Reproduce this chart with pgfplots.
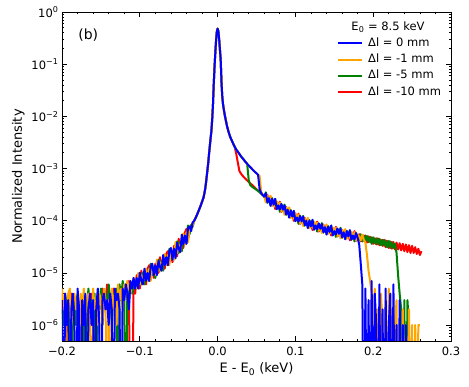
\documentclass[border=0pt]{standalone}
\usepackage{fontspec}
\setmainfont{DejaVu Sans}
\setsansfont{DejaVu Sans}
\usepackage{pgfplots}
\pgfplotsset{compat=1.18}
\usepackage{pgfplotstable}

\definecolor{mplblue}{RGB}{0,0,255}
\definecolor{mplorange}{RGB}{255,165,0}
\definecolor{mplgreen}{RGB}{0,128,0}
\definecolor{mplred}{RGB}{255,0,0}

% columns: b = 0 mm, o = -1 mm, g = -5 mm, r = -10 mm ; 1e-9 = zero counts
\pgfplotstableread{
x b o g r
-0.200 3e-6 5e-6 2e-6 4e-6
-0.198 1e-9 2e-6 1e-6 1e-6
-0.196 4e-6 3e-6 4e-6 2e-6
-0.194 1e-6 1e-9 2e-6 3e-6
-0.192 3e-6 4e-6 1e-6 1e-9
-0.190 1e-9 5e-6 3e-6 2e-6
-0.188 2e-6 1e-6 1e-9 4e-6
-0.186 4e-6 3e-6 2e-6 1e-6
-0.184 1e-6 4e-6 3e-6 2e-6
-0.182 1e-9 2e-6 1e-6 3e-6
-0.180 5e-6 3e-6 4e-6 2e-6
-0.178 2e-6 1e-9 2e-6 1e-6
-0.176 1e-9 4e-6 1e-6 3e-6
-0.174 3e-6 2e-6 3e-6 1e-9
-0.172 1e-6 5e-6 2e-6 2e-6
-0.170 4e-6 1e-6 1e-9 3e-6
-0.168 1e-9 3e-6 2e-6 1e-6
-0.166 2e-6 4e-6 5e-6 3e-6
-0.164 4e-6 2e-6 1e-6 2e-6
-0.162 1e-6 1e-9 3e-6 4e-6
-0.160 3e-6 5e-6 2e-6 1e-6
-0.158 1e-9 2e-6 4e-6 3e-6
-0.156 2e-6 3e-6 1e-9 2e-6
-0.154 5e-6 1e-6 3e-6 4e-6
-0.152 1e-6 4e-6 2e-6 2e-6
-0.150 1e-9 3e-6 5e-6 3e-6
-0.148 3e-6 1e-6 1e-6 5e-6
-0.146 4e-6 5e-6 3e-6 2e-6
-0.144 2e-6 3e-6 4e-6 3e-6
-0.142 3e-6 1e-9 2e-6 6e-6
-0.140 1e-6 3e-6 6e-6 2e-6
-0.138 4e-6 1e-9 3e-6 4e-6
-0.136 2e-6 5e-6 1e-6 3e-6
-0.134 1e-9 2e-6 4e-6 5e-6
-0.132 5e-6 4e-6 3e-6 2e-6
-0.130 3e-6 1e-6 5e-6 4e-6
-0.128 4e-6 6e-6 1e-9 3e-6
-0.126 2e-6 3e-6 6e-6 5e-6
-0.124 1e-9 5e-6 3e-6 4e-6
-0.122 5e-6 2e-6 7e-6 3e-6
-0.120 3e-6 6e-6 4e-6 5e-6
-0.118 6e-6 4e-6 1e-9 6e-6
-0.116 4e-6 7e-6 5e-6 3e-6
-0.114 2e-6 5e-6 3e-6 7e-6
-0.112 7e-6 4e-6 6e-6 1e-9
-0.110 5e-6 6e-6 4e-6 1e-9
-0.108 8e-6 8e-6 5e-6 7e-6
-0.106 5e-6 6e-6 7e-6 4e-6
-0.104 8e-6 5e-6 5e-6 9e-6
-0.102 5e-6 10e-6 9e-6 6e-6
-0.100 10e-6 6e-6 10e-6 5e-6
-0.098 7e-6 9e-6 6e-6 11e-6
-0.096 6e-6 6e-6 10e-6 7e-6
-0.094 12e-6 11e-6 6e-6 10e-6
-0.092 7e-6 12e-6 12e-6 6e-6
-0.090 10e-6 7e-6 9e-6 12e-6
-0.088 7e-6 12e-6 7e-6 14e-6
-0.086 13e-6 7e-6 15e-6 8e-6
-0.084 15e-6 14e-6 9e-6 13e-6
-0.082 9e-6 10e-6 13e-6 8e-6
-0.080 14e-6 9e-6 8e-6 15e-6
-0.078 9e-6 18e-6 16e-6 11e-6
-0.076 17e-6 11e-6 18e-6 10e-6
-0.074 13e-6 16e-6 11e-6 20e-6
-0.072 11e-6 11e-6 17e-6 12e-6
-0.070 22e-6 20e-6 11e-6 18e-6
-0.068 14e-6 23e-6 22e-6 12e-6
-0.066 20e-6 14e-6 16e-6 23e-6
-0.064 14e-6 22e-6 14e-6 26e-6
-0.062 26e-6 14e-6 29e-6 16e-6
-0.060 30e-6 28e-6 18e-6 25e-6
-0.058 18e-6 21e-6 26e-6 16e-6
-0.056 29e-6 18e-6 18e-6 33e-6
-0.054 19e-6 39e-6 35e-6 25e-6
-0.052 38e-6 24e-6 40e-6 21e-6
-0.050 29e-6 35e-6 24e-6 45e-6
-0.048 25e-6 25e-6 40e-6 29e-6
-0.046 54e-6 48e-6 26e-6 42e-6
-0.044 35e-6 57e-6 54e-6 30e-6
-0.042 52e-6 35e-6 42e-6 59e-6
-0.040 36e-6 60e-6 37e-6 70e-6
-0.038 72e-6 39e-6 81e-6 44e-6
-0.036 78e-6 72e-6 55e-6 65e-6
-0.034 63e-6 67e-6 83e-6 80e-6
-0.032 93e-6 82e-6 77e-6 90e-6
-0.030 1.0e-4 1.0e-4 1.0e-4 1.0e-4
-0.028 1.15e-4 1.15e-4 1.15e-4 1.15e-4
-0.026 1.35e-4 1.35e-4 1.35e-4 1.35e-4
-0.024 1.6e-4 1.6e-4 1.6e-4 1.6e-4
-0.022 1.9e-4 1.9e-4 1.9e-4 1.9e-4
-0.020 2.3e-4 2.3e-4 2.3e-4 2.3e-4
-0.018 2.8e-4 2.8e-4 2.8e-4 2.8e-4
-0.016 4.0e-4 4.0e-4 4.0e-4 4.0e-4
-0.015 5.2e-4 5.2e-4 5.2e-4 5.2e-4
-0.014 7.0e-4 7.0e-4 7.0e-4 7.0e-4
-0.013 9.5e-4 9.5e-4 9.5e-4 9.5e-4
-0.012 1.3e-3 1.3e-3 1.3e-3 1.3e-3
-0.011 1.9e-3 1.9e-3 1.9e-3 1.9e-3
-0.010 2.7e-3 2.7e-3 2.7e-3 2.7e-3
-0.009 3.8e-3 3.8e-3 3.8e-3 3.8e-3
-0.008 5.2e-3 5.2e-3 5.2e-3 5.2e-3
-0.007 8.5e-3 8.5e-3 8.5e-3 8.5e-3
-0.006 0.016 0.016 0.016 0.016
-0.005 0.040 0.040 0.040 0.040
-0.004 0.085 0.085 0.085 0.085
-0.003 0.16 0.16 0.16 0.16
-0.002 0.28 0.28 0.28 0.28
-0.001 0.42 0.42 0.42 0.42
0.000 0.48 0.48 0.48 0.48
0.001 0.43 0.43 0.43 0.43
0.002 0.30 0.30 0.30 0.30
0.003 0.19 0.19 0.19 0.19
0.004 0.12 0.12 0.12 0.12
0.005 0.045 0.045 0.045 0.045
0.006 0.024 0.024 0.024 0.024
0.007 0.017 0.017 0.017 0.017
0.008 0.0135 0.0135 0.0135 0.0135
0.009 0.011 0.011 0.011 0.011
0.010 0.0092 0.0092 0.0092 0.0092
0.012 0.0066 0.0066 0.0066 0.0066
0.014 0.0051 0.0051 0.0051 0.0051
0.016 0.0041 0.0041 0.0041 0.0041
0.018 0.0035 0.0035 0.0035 0.0035
0.020 0.0030 0.0030 0.0030 0.0030
0.022 0.0026 0.0026 0.0026 0.0026
0.024 2.3e-3 2.3e-3 2.3e-3 1.9e-3
0.026 2.1e-3 2.1e-3 2.1e-3 1.3e-3
0.028 1.9e-3 1.9e-3 1.9e-3 9.0e-4
0.030 1.72e-3 1.72e-3 1.72e-3 8.0e-4
0.032 1.58e-3 1.58e-3 1.58e-3 7.3e-4
0.034 1.45e-3 1.45e-3 1.45e-3 6.8e-4
0.036 1.33e-3 1.33e-3 1.33e-3 6.3e-4
0.038 1.23e-3 1.23e-3 1.23e-3 5.9e-4
0.040 1.14e-3 1.14e-3 6.0e-4 5.5e-4
0.042 1.06e-3 1.06e-3 4.8e-4 5.2e-4
0.044 9.9e-4 9.9e-4 4.5e-4 4.9e-4
0.046 9.2e-4 9.2e-4 4.3e-4 4.6e-4
0.048 8.6e-4 8.6e-4 4.1e-4 4.3e-4
0.050 8.1e-4 8.1e-4 3.9e-4 4.0e-4
0.052 7.6e-4 7.6e-4 3.7e-4 3.8e-4
0.054 4.0e-4 7.2e-4 3.5e-4 3.6e-4
0.056 3.4e-4 3.6e-4 3.3e-4 3.3e-4
0.058 3.1e-4 3.1e-4 3.1e-4 3.1e-4
0.060 2.9e-4 3.0e-4 2.85e-4 2.95e-4
0.062 33.6e-5 22.4e-5 35e-5 24.6e-5
0.064 22.5e-5 30.5e-5 22e-5 31.3e-5
0.066 27e-5 23e-5 25.5e-5 23.8e-5
0.068 19.2e-5 30e-5 21.1e-5 28.8e-5
0.070 26.5e-5 19.1e-5 27.1e-5 19.6e-5
0.072 20.2e-5 22.4e-5 20.9e-5 23.8e-5
0.074 26.3e-5 18.5e-5 25.2e-5 16.8e-5
0.076 16.6e-5 23.6e-5 17e-5 23e-5
0.078 19.6e-5 18.2e-5 20.7e-5 17.7e-5
0.080 16.3e-5 22.2e-5 14.8e-5 23.1e-5
0.082 21e-5 15.1e-5 20.5e-5 14.8e-5
0.084 16.2e-5 18.4e-5 15.6e-5 17.3e-5
0.086 19.6e-5 13e-5 20.4e-5 14.3e-5
0.088 13.3e-5 17.9e-5 12.9e-5 18.4e-5
0.090 16.2e-5 13.8e-5 15.3e-5 14.3e-5
0.092 11.4e-5 17.9e-5 12.6e-5 17.2e-5
0.094 15.6e-5 11.3e-5 16e-5 11.6e-5
0.096 12e-5 13.3e-5 12.4e-5 14e-5
0.098 15.5e-5 10.9e-5 14.9e-5 9.9e-5
0.100 9.8e-5 13.9e-5 10e-5 13.6e-5
0.102 11.5e-5 10.7e-5 12.2e-5 10.4e-5
0.104 9.6e-5 13.1e-5 8.7e-5 13.6e-5
0.106 12.4e-5 8.9e-5 12.1e-5 8.7e-5
0.108 9.7e-5 11e-5 9.4e-5 10.4e-5
0.110 11.9e-5 7.9e-5 12.4e-5 8.7e-5
0.112 8.2e-5 11e-5 8e-5 11.3e-5
0.114 10e-5 8.6e-5 9.5e-5 8.8e-5
0.116 7.2e-5 11.3e-5 7.9e-5 10.8e-5
0.118 10e-5 7.2e-5 10.3e-5 7.4e-5
0.120 7.8e-5 8.7e-5 8.1e-5 9.2e-5
0.122 10.4e-5 7.3e-5 10e-5 6.6e-5
0.124 6.7e-5 9.6e-5 6.9e-5 9.3e-5
0.126 8.1e-5 7.5e-5 8.5e-5 7.3e-5
0.128 6.8e-5 9.2e-5 6.2e-5 9.6e-5
0.130 8.9e-5 6.4e-5 8.6e-5 6.2e-5
0.132 7e-5 8e-5 6.8e-5 7.5e-5
0.134 8.6e-5 5.8e-5 9e-5 6.3e-5
0.136 6e-5 8.2e-5 5.9e-5 8.4e-5
0.138 7.5e-5 6.3e-5 7e-5 6.6e-5
0.140 5.4e-5 8.5e-5 6e-5 8.2e-5
0.142 7.7e-5 5.6e-5 7.9e-5 5.7e-5
0.144 6.1e-5 6.7e-5 6.3e-5 7.1e-5
0.146 8.1e-5 5.7e-5 7.8e-5 5.2e-5
0.148 5.2e-5 7.4e-5 5.4e-5 7.2e-5
0.150 6.3e-5 5.9e-5 6.7e-5 5.7e-5
0.152 5.4e-5 7.3e-5 4.9e-5 7.6e-5
0.154 7.1e-5 5.1e-5 6.9e-5 5e-5
0.156 5.6e-5 6.4e-5 5.4e-5 6e-5
0.158 7e-5 4.6e-5 7.3e-5 5.1e-5
0.160 4.8e-5 6.6e-5 4.7e-5 6.7e-5
0.162 6e-5 5.2e-5 5.7e-5 5.3e-5
0.164 4.4e-5 6.9e-5 4.8e-5 6.6e-5
0.166 6.3e-5 4.5e-5 6.4e-5 4.6e-5
0.168 5e-5 5.5e-5 5.1e-5 5.8e-5
0.170 6.6e-5 4.7e-5 6.4e-5 4.2e-5
0.172 4.3e-5 6.1e-5 4.4e-5 6e-5
0.174 5.2e-5 4.8e-5 5.5e-5 4.7e-5
0.176 4.4e-5 6e-5 4e-5 6.3e-5
0.178 5.8e-5 4.2e-5 5.7e-5 4.1e-5
0.180 4.7e-5 5.3e-5 4.5e-5 5e-5
0.182 3.5e-5 5.0e-5 4.3e-5 5.5e-5
0.184 1.5e-5 4.2e-5 5.5e-5 4.0e-5
0.186 6e-6 5.4e-5 4.0e-5 5.3e-5
0.188 1e-9 4.3e-5 5.2e-5 4.1e-5
0.190 5e-6 3.8e-5 4.1e-5 5.2e-5
0.192 1e-9 2.2e-5 5.1e-5 3.8e-5
0.194 3e-6 1.1e-5 3.9e-5 5.0e-5
0.196 1e-9 7e-6 4.9e-5 3.9e-5
0.198 7e-6 4e-6 3.6e-5 4.8e-5
0.200 1e-9 1e-9 4.8e-5 3.6e-5
0.202 4e-6 5e-6 3.7e-5 4.6e-5
0.204 1e-6 1e-9 4.6e-5 3.5e-5
0.206 1e-9 2e-6 3.5e-5 4.6e-5
0.208 6e-6 1e-9 4.5e-5 3.4e-5
0.210 1e-9 4e-6 3.4e-5 4.3e-5
0.212 2e-6 1e-6 4.3e-5 3.3e-5
0.214 1e-9 1e-9 3.3e-5 4.3e-5
0.216 5e-6 3e-6 4.2e-5 3.1e-5
0.218 1e-9 1e-9 3.1e-5 4.1e-5
0.220 1e-6 5e-6 4.1e-5 3.0e-5
0.222 4e-6 1e-9 3.0e-5 4.0e-5
0.224 1e-9 2e-6 3.9e-5 2.9e-5
0.226 6e-6 1e-9 3.0e-5 3.9e-5
0.228 1e-9 1e-6 3.6e-5 2.8e-5
0.230 1e-6 3e-6 2.4e-5 3.8e-5
0.232 1e-9 1e-9 9e-6 2.8e-5
0.234 3e-6 1e-6 4e-6 3.7e-5
0.236 1e-9 1e-9 2e-6 2.7e-5
0.238 1e-6 2e-6 1e-9 3.6e-5
0.240 1e-9 1e-9 3e-6 2.6e-5
0.242 1e-6 1e-6 1e-9 3.5e-5
0.244 1e-9 1e-9 3e-6 2.5e-5
0.246 nan 2e-6 1e-6 3.4e-5
0.248 nan 1e-9 1e-9 2.4e-5
0.250 nan 1e-6 nan 3.3e-5
0.252 nan 1e-9 nan 2.4e-5
0.254 nan 1e-6 nan 3.1e-5
0.256 nan 1e-9 nan 2.3e-5
0.258 nan 1e-6 nan 2.9e-5
0.260 nan 1e-6 nan 2.2e-5
0.262 nan nan nan 2.6e-5
}\spectra

\begin{document}
\begin{tikzpicture}
\begin{axis}[
    scale only axis, width=389pt, height=329pt,
    ymode=log, xmin=-0.2, xmax=0.3, ymin=4.94e-7, ymax=1,
    xtick={-0.2,-0.1,0,0.1,0.2,0.3},
    xticklabels={−0.2,−0.1,0.0,0.1,0.2,0.3},
    minor x tick num=4,
    ytick={1e-6,1e-5,1e-4,1e-3,1e-2,1e-1,1},
    yticklabels={10\textsuperscript{−6},10\textsuperscript{−5},10\textsuperscript{−4},10\textsuperscript{−3},10\textsuperscript{−2},10\textsuperscript{−1},10\textsuperscript{0}},
    minor ytick={6e-7,7e-7,8e-7,9e-7,
        2e-6,3e-6,4e-6,5e-6,6e-6,7e-6,8e-6,9e-6,
        2e-5,3e-5,4e-5,5e-5,6e-5,7e-5,8e-5,9e-5,
        2e-4,3e-4,4e-4,5e-4,6e-4,7e-4,8e-4,9e-4,
        2e-3,3e-3,4e-3,5e-3,6e-3,7e-3,8e-3,9e-3,
        2e-2,3e-2,4e-2,5e-2,6e-2,7e-2,8e-2,9e-2,
        0.2,0.3,0.4,0.5,0.6,0.7,0.8,0.9},
    tick align=inside,
    major tick length=5pt, minor tick length=2.5pt,
    every tick/.style={black, line width=0.7pt},
    axis line style={line width=0.9pt},
    ticklabel style={font=\fontsize{11.5}{13}\selectfont},
    xticklabel style={yshift=-2pt},
    xlabel={E - E\textsubscript{0} (keV)},
    ylabel={Normalized Intensity},
    xlabel style={yshift=-1pt},
    label style={font=\fontsize{13}{15}\selectfont},
    unbounded coords=jump,
    legend style={at={(axis description cs:0.707,0.930)}, anchor=north west,
        draw=none, fill=none, inner sep=0pt,
        font=\fontsize{11.5}{13}\selectfont,
        nodes={inner sep=2pt, text height=9pt, text depth=3.3pt},
        cells={anchor=west}},
]
\addlegendimage{legend image code/.code={\draw[mplblue, line width=2pt] (0pt,0pt) -- (24pt,0pt);}}
\addlegendentry{\hspace{3pt}Δl = 0 mm}
\addlegendimage{legend image code/.code={\draw[mplorange, line width=2pt] (0pt,0pt) -- (24pt,0pt);}}
\addlegendentry{\hspace{3pt}Δl = -1 mm}
\addlegendimage{legend image code/.code={\draw[mplgreen, line width=2pt] (0pt,0pt) -- (24pt,0pt);}}
\addlegendentry{\hspace{3pt}Δl = -5 mm}
\addlegendimage{legend image code/.code={\draw[mplred, line width=2pt] (0pt,0pt) -- (24pt,0pt);}}
\addlegendentry{\hspace{3pt}Δl = -10 mm}

\addplot[mplred, line width=2pt, line join=round, forget plot] table[x=x, y=r] {\spectra};
\addplot[mplgreen, line width=2pt, line join=round, forget plot] table[x=x, y=g] {\spectra};
\addplot[mplorange, line width=2pt, line join=round, forget plot] table[x=x, y=o] {\spectra};
\addplot[mplblue, line width=2pt, line join=round, forget plot] table[x=x, y=b] {\spectra};

\node[font=\fontsize{11.5}{13}\selectfont] at (axis description cs:0.838,0.954) {E\textsubscript{0} = 8.5 keV};
\node[font=\fontsize{14}{16}\selectfont] at (axis description cs:0.0676,0.929) {(b)};
\end{axis}
\path ([shift={(-62pt,-46pt)}]current axis.south west) rectangle ([shift={(18pt,12pt)}]current axis.north east);
\end{tikzpicture}
\end{document}
